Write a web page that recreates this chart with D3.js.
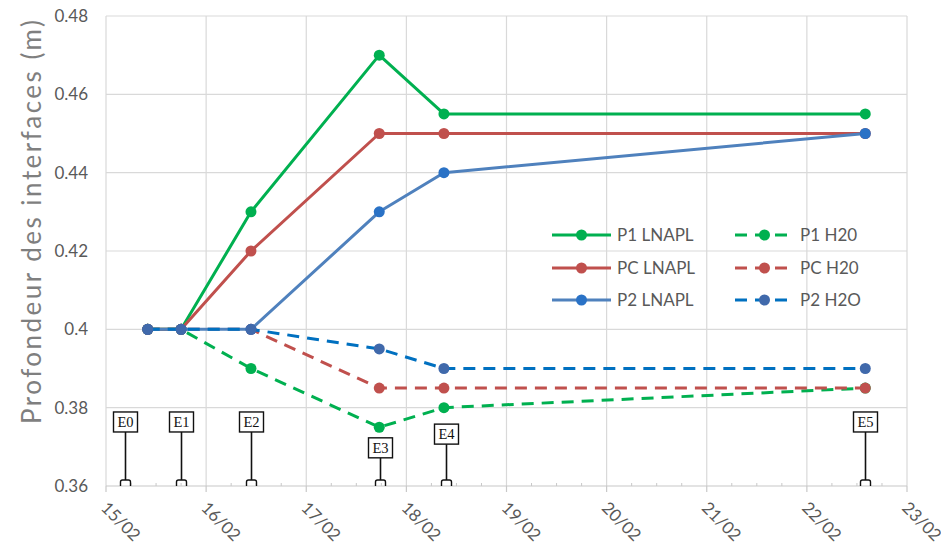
<!DOCTYPE html>
<html><head><meta charset="utf-8">
<script src="https://cdn.jsdelivr.net/npm/d3@7"></script>
<style>body{margin:0;background:#fff}svg{display:block}</style>
</head><body>
<svg id="c" width="941" height="551"></svg>
<script>
// ---- data ----
const dates = ["2021-02-15T10:00","2021-02-15T18:00","2021-02-16T10:45","2021-02-17T17:30","2021-02-18T09:00","2021-02-22T14:00"];
const p1Lnapl = [0.40,0.40,0.43,0.47,0.455,0.455];
const pcLnapl = [0.40,0.40,0.42,0.45,0.45,0.45];
const p2Lnapl = [0.40,0.40,0.40,0.43,0.44,0.45];
const p1H2o  = [0.40,0.40,0.39,0.375,0.38,0.385];
const pcH2o  = [0.40,0.40,0.40,0.385,0.385,0.385];
const p2H2o  = [0.40,0.40,0.40,0.395,0.39,0.39];
const seriesNames = ["P1 LNAPL","P1 H20","PC LNAPL","PC H20","P2 LNAPL","P2 H2O"];
const yTicks = [0.36,0.38,0.40,0.42,0.44,0.46,0.48];
const yTickLabels = ["0.36","0.38","0.4","0.42","0.44","0.46","0.48"];
const xDomain = ["2021-02-15T00:00","2021-02-23T00:00"];
const annotLabels = ["E0","E1","E2","E3","E4","E5"];
const annotDates = ["2021-02-15T04:30","2021-02-15T18:00","2021-02-16T10:45","2021-02-17T17:45","2021-02-18T09:30","2021-02-22T14:00"];
const annotLevels = [0.3789,0.3789,0.3789,0.3723,0.3758,0.3789];
const yTitle = "Profondeur des interfaces (m)";

// ---- styles ----
const styles = [
  {vals:p1Lnapl, line:"#00b050", mark:"#00b050", dash:null},
  {vals:p1H2o,  line:"#00b050", mark:"#00b050", dash:"12,8"},
  {vals:pcLnapl, line:"#c0504d", mark:"#c0504d", dash:null},
  {vals:pcH2o,  line:"#c0504d", mark:"#c0504d", dash:"12,8"},
  {vals:p2Lnapl, line:"#4f81bd", mark:"#2a72c6", dash:null},
  {vals:p2H2o,  line:"#0070c0", mark:"#4069ab", dash:"12,8"}
];
const font = "Lato, 'Open Sans', sans-serif";
const grey = "#595959";

const parse = d3.utcParse("%Y-%m-%dT%H:%M");
const svg = d3.select("#c");
const L=106, R=907, T=16, B=486;
const x = d3.scaleUtc().domain(xDomain.map(parse)).range([L,R]);
const y = d3.scaleLinear().domain([0.36,0.48]).range([B,T]);

// gridlines
const days = d3.utcDay.range(x.domain()[0], d3.utcDay.offset(x.domain()[1],1));
svg.append("g").selectAll("line").data(yTicks.slice(1)).join("line")
  .attr("x1",L).attr("x2",R).attr("y1",d=>y(d)).attr("y2",d=>y(d))
  .attr("stroke","#d9d9d9").attr("stroke-width",1.2);
svg.append("g").selectAll("line").data(days).join("line")
  .attr("x1",d=>x(d)).attr("x2",d=>x(d)).attr("y1",T).attr("y2",B)
  .attr("stroke","#d9d9d9").attr("stroke-width",1.2);

// x axis
const xAxis = svg.append("g");
xAxis.append("line").attr("x1",L).attr("x2",R).attr("y1",B).attr("y2",B).attr("stroke","#c8c8c8").attr("stroke-width",1.2);
const minor = d3.utcHour.every(6).range(x.domain()[0], x.domain()[1]).filter(d=>d.getUTCHours()!==0);
xAxis.selectAll(".mn").data(minor).join("line").attr("class","mn")
  .attr("x1",d=>x(d)).attr("x2",d=>x(d)).attr("y1",B-3).attr("y2",B).attr("stroke","#c8c8c8");
xAxis.selectAll(".mj").data(days).join("line").attr("class","mj")
  .attr("x1",d=>x(d)).attr("x2",d=>x(d)).attr("y1",B).attr("y2",B+6).attr("stroke","#c8c8c8").attr("stroke-width",1.2);
const fmt = d3.utcFormat("%d/%m");
xAxis.selectAll("text").data(days).join("text")
  .attr("transform",d=>`translate(${x(d)-6},${B+23}) rotate(45)`)
  .attr("font-family",font).attr("font-size",17).attr("fill",grey)
  .text(d=>fmt(d));

// y axis labels
svg.append("g").selectAll("text").data(yTicks).join("text")
  .attr("x",88).attr("y",d=>y(d)).attr("dy","0.35em").attr("text-anchor","end")
  .attr("font-family",font).attr("font-size",17).attr("fill",grey)
  .text((d,i)=>yTickLabels[i]);
svg.append("text").attr("transform",`translate(41,222) rotate(-90)`)
  .attr("text-anchor","middle").attr("font-family",font).attr("font-size",26).attr("fill","#7f7f7f")
  .attr("textLength",404).attr("lengthAdjust","spacing")
  .text(yTitle);

// annotations
const ann = svg.append("g");
annotLabels.forEach((lab,i)=>{
  const ax = Math.round(x(parse(annotDates[i])))+0.5;
  const top = y(annotLevels[i]);
  const g = ann.append("g");
  g.append("line").attr("x1",ax).attr("x2",ax).attr("y1",top+20).attr("y2",B-6).attr("stroke","#111").attr("stroke-width",1.6);
  g.append("path").attr("d",`M${ax-5},${B} V${B-4} Q${ax-5},${B-6} ${ax-3},${B-6} H${ax+3} Q${ax+5},${B-6} ${ax+5},${B-4} V${B}`)
    .attr("fill","none").attr("stroke","#111").attr("stroke-width",1.4);
  g.append("rect").attr("x",ax-12).attr("y",top).attr("width",24).attr("height",20)
    .attr("fill","#fff").attr("stroke","#111").attr("stroke-width",1.4);
  g.append("text").attr("x",ax).attr("y",top+15).attr("text-anchor","middle")
    .attr("font-family","'Liberation Serif', serif").attr("font-size",14.5).attr("fill","#111").text(lab);
});

// series
const pts = dates.map(parse);
const line = d3.line().x((d,i)=>x(pts[i])).y(d=>y(d));
const sg = svg.append("g");
styles.forEach(s=>{
  sg.append("path").attr("d",line(s.vals)).attr("fill","none").attr("stroke",s.line)
    .attr("stroke-width",3).attr("stroke-dasharray",s.dash).attr("stroke-linejoin","round");
  sg.append("g").selectAll("circle").data(s.vals).join("circle")
    .attr("cx",(d,i)=>x(pts[i])).attr("cy",d=>y(d)).attr("r",5.5).attr("fill",s.mark);
});

// legend
const leg = svg.append("g");
const colX = [552,735], rowY = [235,268,300];
seriesNames.forEach((n,i)=>{
  const s = styles[i];
  const cx = colX[i%2], cy = rowY[Math.floor(i/2)];
  leg.append("line").attr("x1",cx).attr("x2",cx+59).attr("y1",cy).attr("y2",cy)
    .attr("stroke",s.line).attr("stroke-width",3).attr("stroke-dasharray",s.dash);
  leg.append("circle").attr("cx",cx+29.5).attr("cy",cy).attr("r",5.5).attr("fill",s.mark);
  leg.append("text").attr("x",cx+65).attr("y",cy).attr("dy","0.35em")
    .attr("font-family",font).attr("font-size",17).attr("fill",grey).text(n);
});
</script>
</body></html>
